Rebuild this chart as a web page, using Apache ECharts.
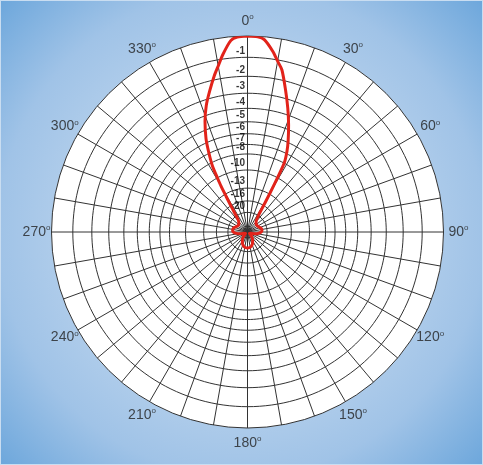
<!DOCTYPE html>
<html><head><meta charset="utf-8">
<script src="https://cdn.jsdelivr.net/npm/echarts@6/dist/echarts.min.js"></script>
<style>
html,body{margin:0;padding:0;background:#fff;}
#c{width:481px;height:463px;border:1px solid #c9ddf1;}
</style>
</head><body><div id="c"></div>
<script>
// Angle tick labels (degrees, clockwise from top)
const angleLabels = [0, 30, 60, 90, 120, 150, 180, 210, 240, 270, 300, 330];
// dB rings (radius is relative field strength 10^(dB/20))
const ringDb = [0, -1, -2, -3, -4, -5, -6, -7, -8, -10, -13, -16, -20];
const ringLabels = ['', '-1', '-2', '-3', '-4', '-5', '-6', '-7', '-8', '-10', '-13', '-16', '-20'];
// Radiation pattern: azimuth (deg) and relative field strength
const patternAngles = [0, 3, 5, 8, 10, 12, 15, 18, 21, 24, 26, 28, 29, 30, 31, 33, 37, 45, 55, 65, 75, 85, 95, 105, 115, 125, 135, 145, 155, 165, 172, 180,
  188, 195, 205, 215, 225, 235, 245, 255, 265, 275, 285, 295, 305, 315, 323, 326, 328, 329, 330, 331, 332, 334, 336, 339, 342, 345, 348, 350, 352, 355, 357, 360];
const patternAmp = [1.0, 0.997, 0.985, 0.93, 0.885, 0.845, 0.75, 0.665, 0.585, 0.51, 0.46, 0.40, 0.31, 0.23, 0.17, 0.11, 0.075, 0.062, 0.058, 0.062, 0.072, 0.074, 0.06, 0.035, 0.015, 0.012, 0.025, 0.045, 0.062, 0.075, 0.08, 0.082,
  0.08, 0.075, 0.062, 0.045, 0.025, 0.012, 0.015, 0.035, 0.062, 0.076, 0.075, 0.064, 0.058, 0.062, 0.08, 0.12, 0.17, 0.21, 0.27, 0.32, 0.38, 0.45, 0.52, 0.605, 0.68, 0.745, 0.815, 0.86, 0.912, 0.98, 0.996, 1.0];

const gridColor = '#333333';
const fontFam = 'Liberation Sans, Arial, sans-serif';
const CENTER = [246.5, 231];
const chart = echarts.init(document.getElementById('c'));

const ringSeries = ringDb.slice(1).map(db => {
  const amp = Math.pow(10, db / 20);
  const pts = [];
  for (let a = 0; a <= 360; a += 2) pts.push([amp, a]);
  return {
    type: 'line', coordinateSystem: 'polar', polarIndex: 0, data: pts, symbol: 'none', silent: true,
    lineStyle: { color: gridColor, width: 1 }, z: 3, animation: false
  };
});

const labelSeries = {
  type: 'scatter', coordinateSystem: 'polar', polarIndex: 0, symbol: 'circle', symbolSize: 1,
  itemStyle: { color: 'rgba(0,0,0,0)' }, silent: true, z: 6, animation: false,
  data: ringDb.map((db, i) => ({ value: [Math.pow(10, db / 20), 0], name: ringLabels[i] })).slice(1),
  label: {
    show: true, position: [-2, -1], align: 'right', verticalAlign: 'bottom',
    formatter: p => p.name, color: '#000', fontSize: 10, fontWeight: 'bold', fontFamily: fontFam
  }
};

const angleLabelSeries = {
  type: 'scatter', coordinateSystem: 'polar', polarIndex: 1, symbol: 'circle', symbolSize: 1,
  itemStyle: { color: 'rgba(0,0,0,0)' }, silent: true, z: 6, animation: false,
  data: angleLabels.map(a => ({ value: [1, a], name: String(a) })),
  label: {
    show: true, position: 'inside', align: 'center', verticalAlign: 'middle',
    formatter: p => '{n|' + p.name + '}{d|o}',
    rich: {
      n: { fontSize: 14, color: '#222', fontFamily: fontFam, lineHeight: 16 },
      d: { fontSize: 8, color: '#222', fontFamily: fontFam, verticalAlign: 'top', lineHeight: 10 }
    }
  }
};

const patternSeries = {
  type: 'line', coordinateSystem: 'polar', polarIndex: 0, symbol: 'none', smooth: 0.25, z: 7, animation: false,
  data: patternAngles.map((a, i) => [patternAmp[i], a]),
  lineStyle: { color: '#e2231a', width: 3 }
};

// white disc behind the grid
const discSeries = {
  type: 'pie', center: CENTER, radius: [0, 196], silent: true, z: 0, animation: false,
  label: { show: false }, labelLine: { show: false },
  itemStyle: { color: '#ffffff', borderWidth: 0 },
  data: [{ value: 1, name: 'disc' }]
};

chart.setOption({
  backgroundColor: {
    type: 'radial', x: 0.5, y: 0.5, r: 0.75,
    colorStops: [
      { offset: 0, color: '#cadef2' },
      { offset: 0.55, color: '#adcbea' },
      { offset: 0.7, color: '#a0c3e7' },
      { offset: 1, color: '#66a3da' }
    ]
  },
  polar: [{ center: CENTER, radius: 196 }, { center: CENTER, radius: 211 }],
  angleAxis: [{
    polarIndex: 0, type: 'value', min: 0, max: 360, interval: 10, startAngle: 90, clockwise: true, z: 4,
    axisLine: { show: true, lineStyle: { color: gridColor, width: 1 } },
    axisTick: { show: false },
    splitLine: { show: true, lineStyle: { color: gridColor, width: 1 } },
    axisLabel: { show: false }
  }, {
    polarIndex: 1, type: 'value', min: 0, max: 360, interval: 30, startAngle: 90, clockwise: true,
    axisLine: { show: false }, axisTick: { show: false }, splitLine: { show: false }, axisLabel: { show: false }
  }],
  radiusAxis: [{
    polarIndex: 0, type: 'value', min: 0, max: 1, z: 4,
    axisLine: { show: false }, axisTick: { show: false }, axisLabel: { show: false }, splitLine: { show: false }
  }, {
    polarIndex: 1, type: 'value', min: 0, max: 1,
    axisLine: { show: false }, axisTick: { show: false }, axisLabel: { show: false }, splitLine: { show: false }
  }],
  series: [discSeries, ...ringSeries, labelSeries, angleLabelSeries, patternSeries]
});
</script>
</body></html>
